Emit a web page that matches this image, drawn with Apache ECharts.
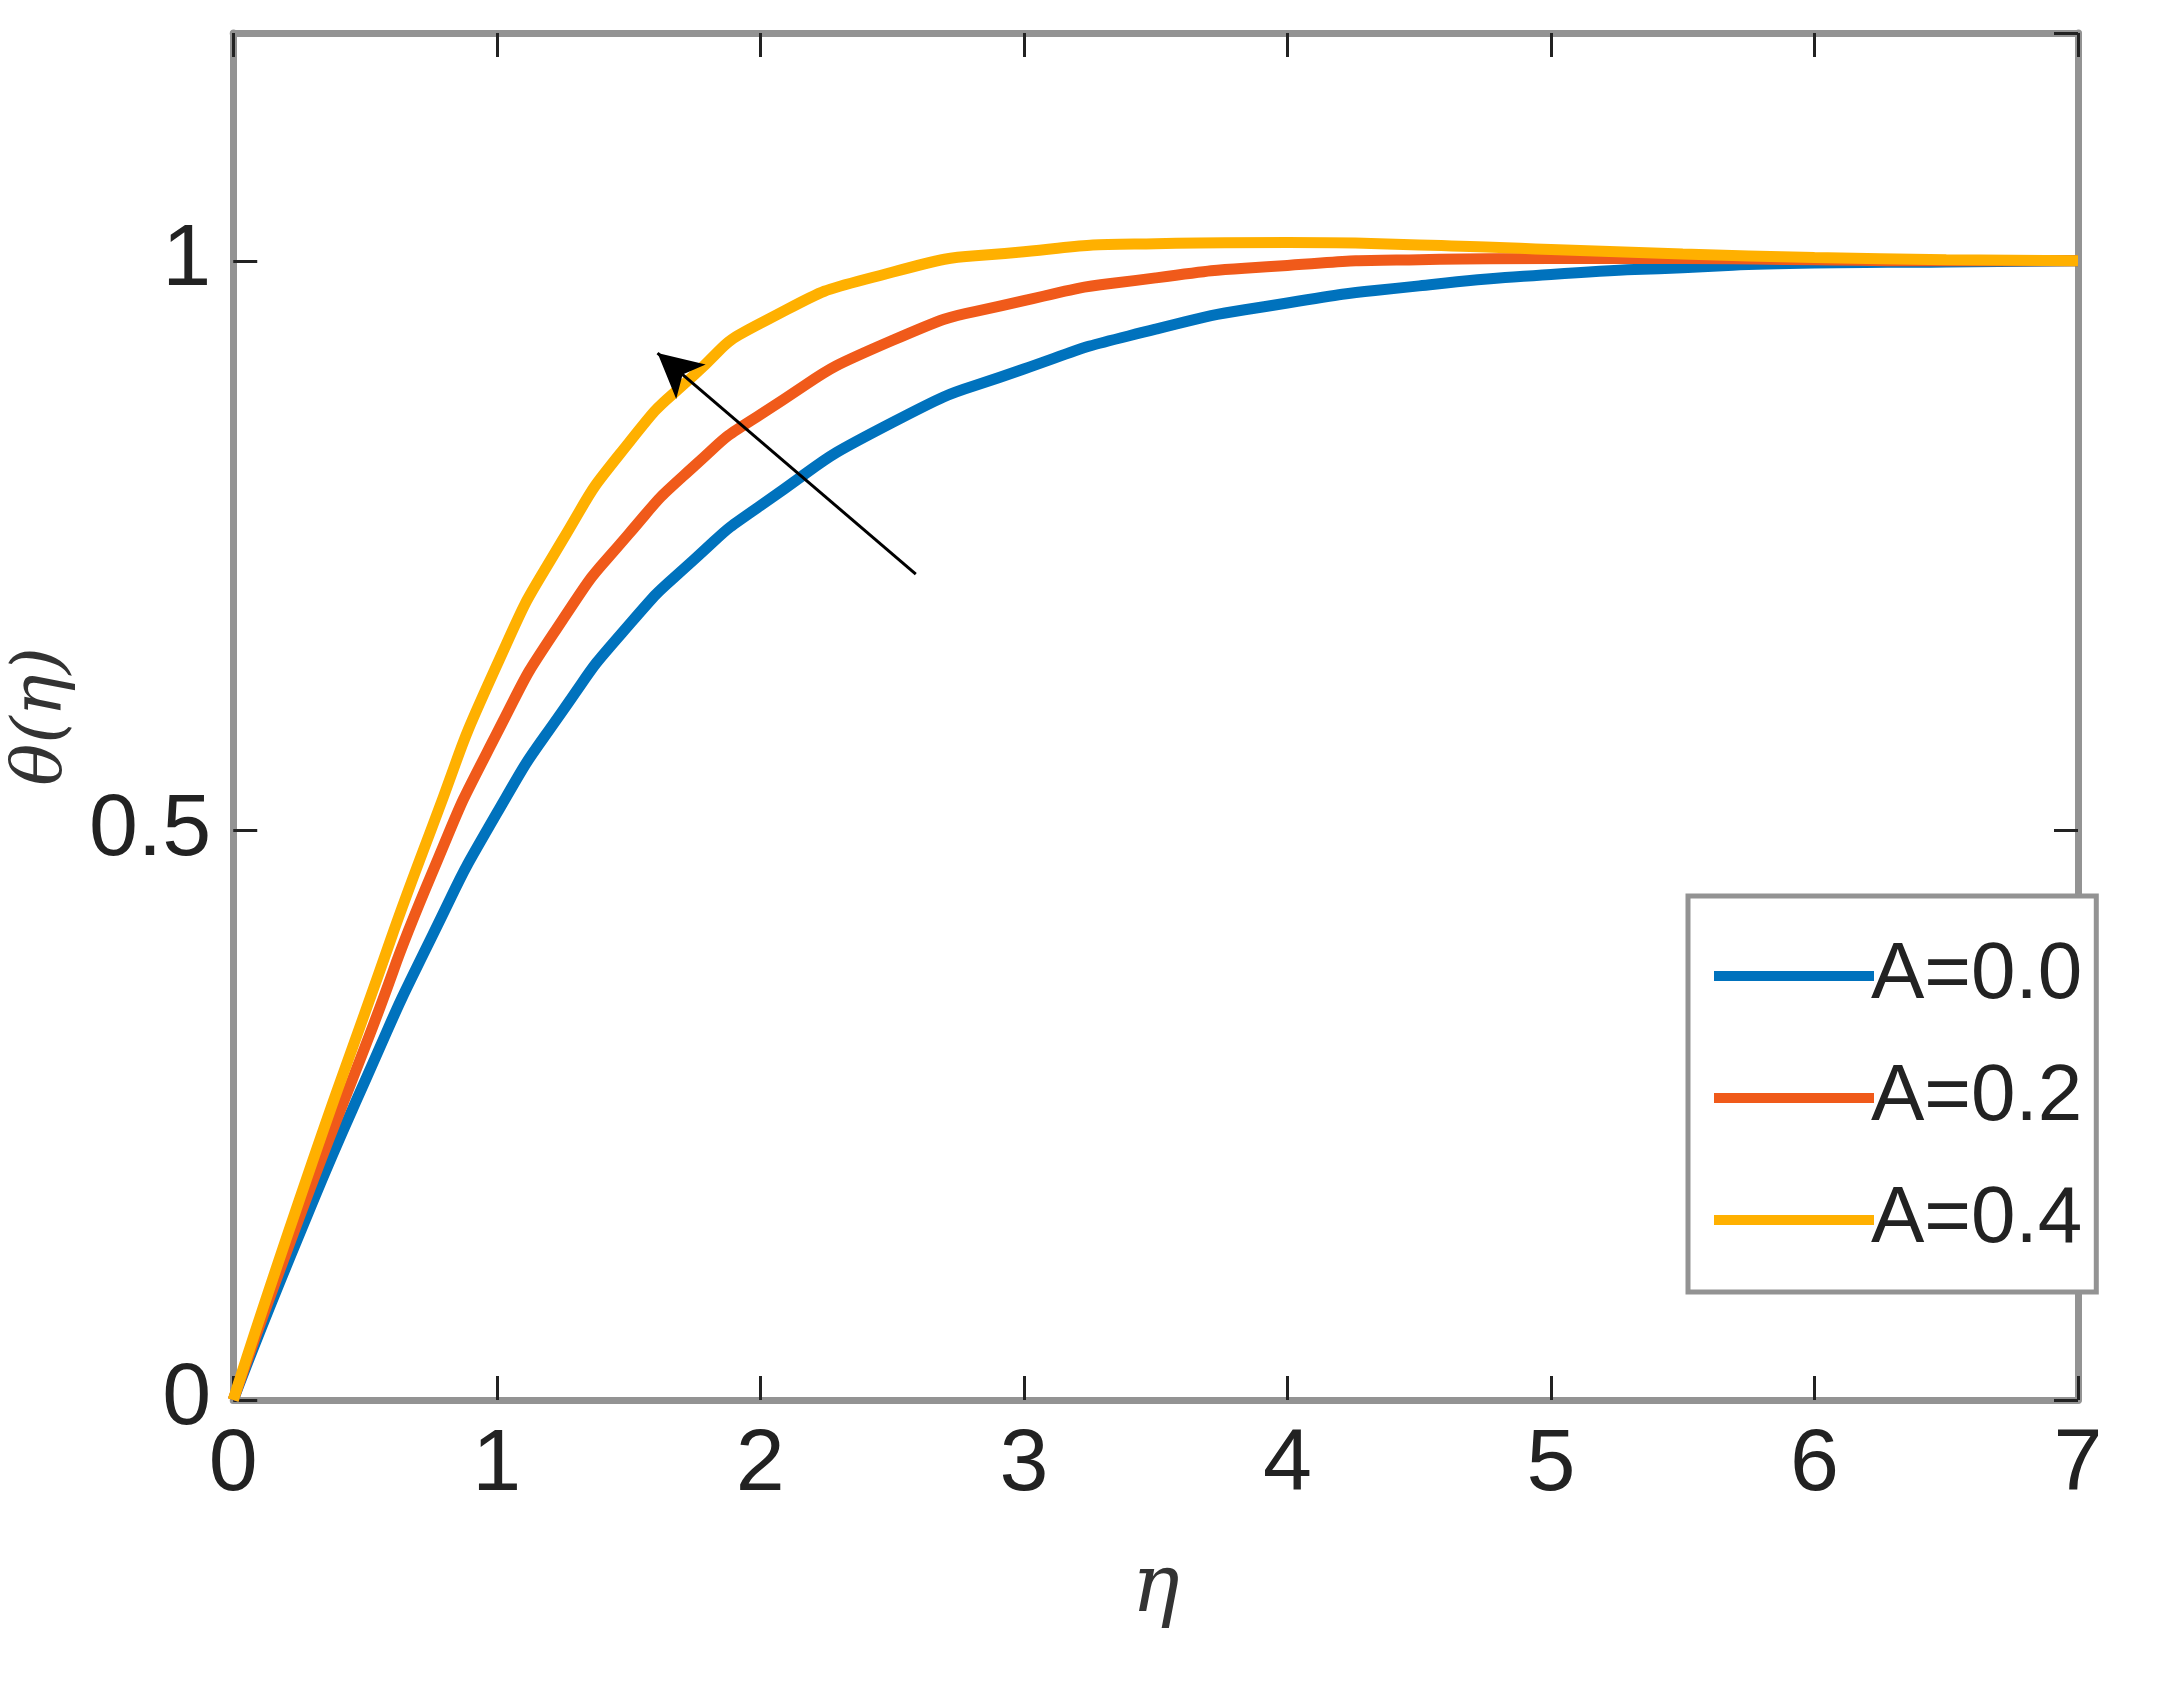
<!DOCTYPE html><html><head><meta charset="utf-8"><script src="https://cdn.jsdelivr.net/npm/echarts@6/dist/echarts.min.js"></script>
<style>html,body{margin:0;padding:0;background:#fff}#c{width:2167px;height:1707px}</style></head><body><div id="c"></div><script>
const eta=[0,0.25,0.5,0.75,1,1.25,1.5,1.75,2,2.5,3,3.5,4,4.5,5,5.5,6,6.5,7];
const A00=[0,0.145,0.28,0.405,0.515,0.605,0.68,0.738,0.785,0.858,0.905,0.94,0.963,0.978,0.988,0.994,0.998,0.999,1.0];
const A02=[0,0.16,0.31,0.46,0.585,0.685,0.76,0.82,0.865,0.93,0.965,0.985,0.996,1.001,1.002,1.002,1.001,1.0,1.0];
const A04=[0,0.175,0.34,0.5,0.645,0.755,0.84,0.9,0.945,0.99,1.008,1.015,1.016,1.014,1.01,1.006,1.003,1.001,1.0];
const names=['A=0.0','A=0.2','A=0.4'];
const colors=['#0072BD','#F05A1A','#FFB000'];
const arrow=[[2.59,0.725],[1.61,0.919]];
const font='"Liberation Sans Narrow","Liberation Sans",sans-serif';
const pts=a=>eta.map((x,i)=>[x,a[i]]);
const axLine={show:true,onZero:false,lineStyle:{color:'#939393',width:7}};
const tick={inside:true,length:24,lineStyle:{color:'#222',width:3}};
const series=[A00,A02,A04].map((d,i)=>({name:names[i],type:'line',data:pts(d),smooth:0.6,showSymbol:false,lineStyle:{width:11,color:colors[i]},itemStyle:{color:colors[i]},z:3}));
series[0].markLine={silent:true,symbol:['none','arrow'],symbolSize:[34,44],label:{show:false},lineStyle:{color:'#000',width:3,type:'solid'},data:[[{coord:arrow[0]},{coord:arrow[1]}]]};
const c=echarts.init(document.getElementById('c'));
c.setOption({animation:false,
grid:{left:167,right:89,top:33,bottom:307},
xAxis:[{type:'value',min:0,max:7,interval:1,axisLine:axLine,axisTick:tick,splitLine:{show:false},axisLabel:{fontFamily:font,fontSize:88,color:'#222',margin:22},name:'η',nameLocation:'middle',nameGap:150,nameTextStyle:{fontFamily:'"DejaVu Serif",serif',fontStyle:'italic',fontSize:80,color:'#333'}},
{type:'value',position:'top',min:0,max:7,interval:1,axisLine:axLine,axisTick:tick,axisLabel:{show:false},splitLine:{show:false}}],
yAxis:[{type:'value',min:0,max:1.2,interval:0.5,axisLine:axLine,axisTick:tick,splitLine:{show:false},axisLabel:{fontFamily:font,fontSize:88,color:'#222',margin:22,showMaxLabel:false,formatter:v=>v===0.5?'0.5':String(v)},name:'θ(η)',nameLocation:'middle',nameGap:110,nameTextStyle:{fontFamily:'"DejaVu Serif",serif',fontStyle:'italic',fontSize:70,color:'#333'}},
{type:'value',position:'right',min:0,max:1.2,interval:0.5,axisLine:axLine,axisTick:tick,axisLabel:{show:false},splitLine:{show:false}}],
legend:{data:names,orient:'vertical',left:1688,top:896,padding:[40,14,32,26],itemGap:42,itemWidth:160,itemHeight:10,borderColor:'#939393',borderWidth:5,borderRadius:0,backgroundColor:'#fff',icon:'rect',textStyle:{fontFamily:font,fontSize:80,color:'#222',padding:[0,0,0,-8]}},
series});
</script></body></html>
